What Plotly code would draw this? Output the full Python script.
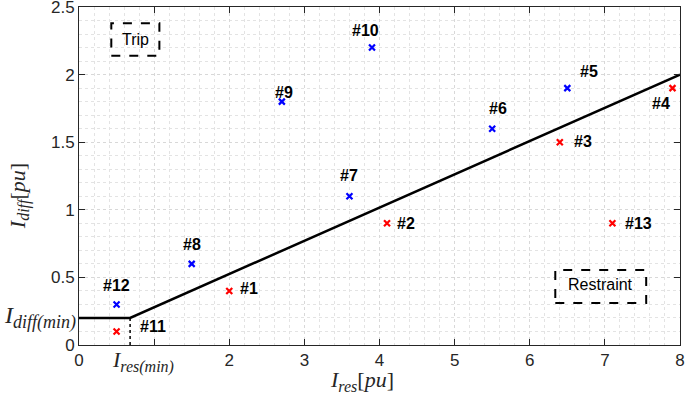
import plotly.graph_objects as go

# ---- data ----
trip_labels = ["#5", "#6", "#7", "#8", "#9", "#10", "#12"]
trip_x = [6.5, 5.5, 3.6, 1.5, 2.7, 3.9, 0.5]
trip_y = [1.9, 1.6, 1.1, 0.6, 1.8, 2.2, 0.3]

restr_labels = ["#1", "#2", "#3", "#4", "#11", "#13"]
restr_x = [2.0, 4.1, 6.4, 7.9, 0.5, 7.1]
restr_y = [0.4, 0.9, 1.5, 1.9, 0.1, 0.9]

char_x = [0, 0.68, 8]
char_y = [0.2, 0.2, 2.0]
ires_min = 0.68
idiff_min = 0.2

x_ticks = [0, 1, 2, 3, 4, 5, 6, 7, 8]
x_ticktext = ["0", "", "2", "3", "4", "5", "6", "7", "8"]
y_ticks = [0, 0.5, 1, 1.5, 2, 2.5]
y_ticktext = ["0", "0.5", "1", "1.5", "2", "2.5"]

# label pixel offsets (style)
label_shift = {
    "#1": (20, 2), "#2": (19, 0), "#3": (23, 1), "#4": (-11, -15),
    "#5": (22, 17), "#6": (6, 20), "#7": (0, 21), "#8": (0, 19),
    "#9": (2, 9), "#10": (-6, 17), "#11": (36, 5), "#12": (0, 19),
    "#13": (26, 0),
}

fig = go.Figure()

# characteristic line
fig.add_trace(go.Scatter(x=char_x, y=char_y, mode="lines", cliponaxis=False,
                         line=dict(color="black", width=2.5), hoverinfo="skip"))
fig.add_trace(go.Scatter(x=[ires_min, ires_min], y=[0, idiff_min], mode="lines",
                         line=dict(color="black", width=1.5, dash="dot"), hoverinfo="skip"))

fig.add_trace(go.Scatter(x=trip_x, y=trip_y, mode="markers",
                         marker=dict(symbol="x-thin", size=6, line=dict(color="#0000FF", width=2.2))))
fig.add_trace(go.Scatter(x=restr_x, y=restr_y, mode="markers",
                         marker=dict(symbol="x-thin", size=6, line=dict(color="#FF0000", width=2.2))))

lab_font = dict(family="Liberation Sans, Arial", size=16, color="black")
for labs, xs, ys in [(trip_labels, trip_x, trip_y), (restr_labels, restr_x, restr_y)]:
    for l, x, y in zip(labs, xs, ys):
        dx, dy = label_shift[l]
        fig.add_annotation(x=x, y=y, text="<b>%s</b>" % l, showarrow=False,
                           xshift=dx, yshift=dy, font=lab_font)

# boxes
box_style = dict(type="rect", xref="x", yref="y", line=dict(color="black", width=2, dash="dash"))
fig.add_shape(x0=0.43, x1=1.07, y0=2.14, y1=2.38, **box_style)
fig.add_shape(x0=6.34, x1=7.55, y0=0.31, y1=0.555, **box_style)
txt_font = dict(family="Liberation Sans, Arial", size=16, color="black")
fig.add_annotation(x=0.75, y=2.26, text="Trip", showarrow=False, font=txt_font)
fig.add_annotation(x=6.945, y=0.45, text="Restraint", showarrow=False, font=txt_font)

math_font = dict(family="Liberation Serif, Times New Roman", size=22, color="#262626")
big_math = dict(family="Liberation Serif, Times New Roman", size=24, color="#262626")
fig.add_annotation(xref="paper", yref="y", x=-0.001, y=idiff_min, xanchor="right",
                   text="<i>I</i><sub><span style='font-size:18px'><i>diff(min)</i></span></sub>",
                   showarrow=False, font=big_math)
fig.add_annotation(xref="x", yref="paper", x=0.85, y=0.0, yanchor="top",
                   text="<i>I</i><sub><span style='font-size:16px'><i>res(min)</i></span></sub>",
                   showarrow=False, font=math_font)
fig.add_annotation(xref="x", yref="paper", x=3.77, y=-0.06, yanchor="top",
                   text="<i>I</i><sub><span style='font-size:16px'><i>res</i></span></sub>[<i>pu</i>]",
                   showarrow=False, font=math_font)
fig.add_annotation(xref="paper", yref="y", x=-0.1, y=1.1, xanchor="center", textangle=-90,
                   text="<i>I</i><sub><span style='font-size:16px'><i>diff</i></span></sub>[<i>pu</i>]",
                   showarrow=False, font=math_font)

tick_font = dict(family="Liberation Sans, Arial", size=17, color="#262626")
grid_minor = dict(showgrid=True, gridcolor="#e3e3e3", griddash="dot", gridwidth=1)
fig.update_xaxes(range=[0, 8], tickvals=x_ticks, ticktext=x_ticktext, ticks="inside", ticklen=6,
                 tickcolor="#262626", showline=True, linecolor="#262626", linewidth=1, mirror="allticks",
                 showgrid=True, gridcolor="#d8d8d8", griddash="dot", zeroline=False, automargin=False,
                 ticklabeloverflow="allow",
                 tickfont=tick_font, minor=dict(dtick=0.2, ticks="", **grid_minor))
fig.update_yaxes(range=[0, 2.5], tickvals=y_ticks, ticktext=y_ticktext, ticks="inside", ticklen=6,
                 tickcolor="#262626", showline=True, linecolor="#262626", linewidth=1, mirror="allticks",
                 showgrid=True, gridcolor="#d8d8d8", griddash="dot", zeroline=False, automargin=False,
                 ticklabeloverflow="allow",
                 tickfont=tick_font, minor=dict(dtick=0.1, ticks="", **grid_minor))

fig.update_layout(width=685, height=396, margin=dict(l=79, r=5, t=7, b=51),
                  plot_bgcolor="white", paper_bgcolor="white", showlegend=False)

fig.write_html("out.html", config={"displayModeBar": False},
               post_script="document.body.style.margin='0';document.body.style.overflow='hidden';")
